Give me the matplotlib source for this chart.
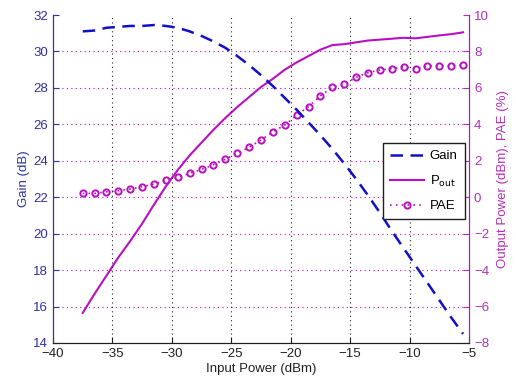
import matplotlib
matplotlib.use("Agg")
import matplotlib.pyplot as plt

plt.rcParams['font.family'] = ['Liberation Sans', 'DejaVu Sans']

input_power = [-37.5 + i for i in range(33)]
gain = [31.1, 31.15, 31.3, 31.35, 31.4, 31.4, 31.45, 31.4, 31.3, 31.1, 30.85, 30.55,
        30.2, 29.75, 29.25, 28.7, 28.1, 27.45, 26.8, 26.1, 25.4, 24.65, 23.85, 23.0,
        22.1, 21.15, 20.15, 19.2, 18.25, 17.3, 16.35, 15.4, 14.5]
pout = [-6.35, -5.3, -4.3, -3.3, -2.4, -1.45, -0.4, 0.6, 1.5, 2.3, 3.0, 3.7,
        4.35, 4.95, 5.5, 6.05, 6.5, 7.0, 7.4, 7.75, 8.1, 8.35, 8.4, 8.5,
        8.6, 8.65, 8.7, 8.75, 8.72, 8.8, 8.88, 8.95, 9.05]
pae = [0.21, 0.21, 0.30, 0.36, 0.45, 0.58, 0.72, 0.92, 1.09, 1.31, 1.53, 1.78,
       2.09, 2.41, 2.74, 3.14, 3.59, 3.96, 4.5, 4.97, 5.57, 6.03, 6.2, 6.58,
       6.84, 6.98, 7.06, 7.16, 7.06, 7.2, 7.2, 7.2, 7.26]

xticks = [-40, -35, -30, -25, -20, -15, -10, -5]
left_ticks = [14, 16, 18, 20, 22, 24, 26, 28, 30, 32]
right_ticks = [-8, -6, -4, -2, 0, 2, 4, 6, 8, 10]

blue = '#1010C8'
blue_txt = '#3030A0'
mag = '#B810C0'
mag_txt = '#B030B8'

fig = plt.figure(figsize=(5.16, 3.87), dpi=100)
ax = fig.add_axes([0.1027, 0.1137, 0.8063, 0.8475])
ax2 = ax.twinx()

ax.set_xlim(-40, -5)
ax.set_ylim(14, 32)
ax2.set_ylim(-8, 10)
ax.set_xticks(xticks)
ax.set_yticks(left_ticks)
ax2.set_yticks(right_ticks)

# grids
for xv in xticks[1:-1]:
    ax.axvline(xv, color='#202020', linestyle=(0, (1, 3)), linewidth=0.8, zorder=0)
for yv in right_ticks[1:-1]:
    ax2.axhline(yv, color=mag, linestyle=(0, (1, 3)), linewidth=0.8, zorder=0)

lg, = ax.plot(input_power, gain, color=blue, linestyle=(0, (5, 3)), linewidth=1.8)
lp, = ax2.plot(input_power, pout, color=mag, linestyle='-', linewidth=1.5)
la, = ax2.plot(input_power, pae, color=mag, linestyle=(0, (1, 2.5)), linewidth=1.2,
               marker='o', markersize=4.5, markerfacecolor='none', markeredgewidth=1.4)

fs = 9.5
ax.tick_params(axis='x', labelsize=fs, colors='#202020', direction='in', length=4)
ax.tick_params(axis='y', labelsize=fs, colors=blue_txt, direction='in', length=4)
ax2.tick_params(axis='y', labelsize=fs, colors=mag_txt, direction='in', length=4)

ax.set_xlabel('Input Power (dBm)', fontsize=fs, color='#202020', labelpad=2)
ax.set_ylabel('Gain (dB)', fontsize=fs, color=blue_txt, labelpad=2)
ax2.set_ylabel('Output Power (dBm), PAE (%)', fontsize=fs, color=mag_txt, labelpad=6)

for a in (ax, ax2):
    a.spines['left'].set_color(blue_txt)
    a.spines['right'].set_color(mag)
    a.spines['bottom'].set_color('#202020')
    a.spines['top'].set_visible(False)

leg = ax.legend([lg, lp, la], ['Gain', 'P$_{\\mathrm{out}}$', 'PAE'],
                loc='upper left', bbox_to_anchor=(0.793, 0.61), fontsize=fs,
                frameon=True, fancybox=False, edgecolor='#202020', framealpha=1,
                handlelength=2.6, handletextpad=0.4, borderpad=0.55,
                labelspacing=0.85, borderaxespad=0, numpoints=1)
leg.get_frame().set_linewidth(1.0)
leg.set_zorder(10)
ax.set_zorder(ax2.get_zorder() + 1)
ax.patch.set_visible(False)

fig.savefig('out.png', dpi=100)
